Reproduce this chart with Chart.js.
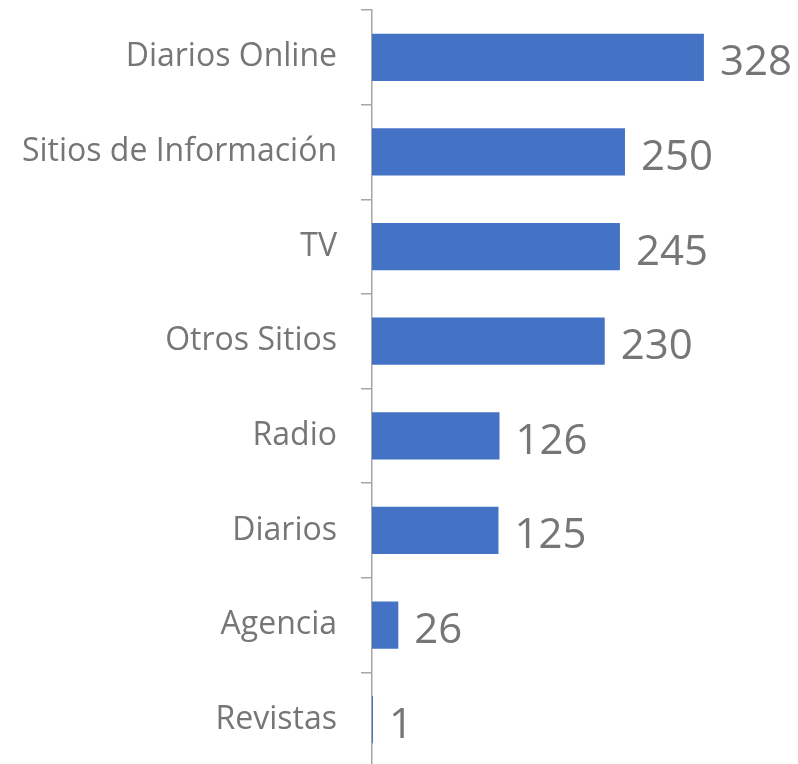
<!DOCTYPE html>
<html>
<head>
<meta charset="utf-8">
<script src="https://cdn.jsdelivr.net/npm/chart.js@4"></script>
<style>
  html, body { margin: 0; padding: 0; background: #fff; overflow: hidden; }
  #wrap { position: relative; width: 798px; height: 770px; }
</style>
</head>
<body>
<div id="wrap"><canvas id="mediaChart" aria-label="Bar chart of mentions by media type"></canvas></div>
<script>
const categories = ['Diarios Online', 'Sitios de Información', 'TV', 'Otros Sitios', 'Radio', 'Diarios', 'Agencia', 'Revistas'];
const mentions = [328, 250, 245, 230, 126, 125, 26, 1];

const BAR_BLUE = '#4472C4';
const TEXT_GRAY = '#767676';
const FONT = "'Open Sans', sans-serif";

// draws the value at the end of each bar
const valueLabels = {
  id: 'valueLabels',
  afterDatasetsDraw(chart) {
    const { ctx } = chart;
    const meta = chart.getDatasetMeta(0);
    ctx.save();
    ctx.fillStyle = TEXT_GRAY;
    ctx.font = `42px ${FONT}`;
    ctx.textAlign = 'left';
    ctx.textBaseline = 'middle';
    meta.data.forEach((bar, i) => {
      ctx.fillText(String(mentions[i]), bar.x + 16, bar.y + 6);
    });
    ctx.restore();
  },
};

new Chart(document.getElementById('mediaChart'), {
  type: 'bar',
  data: {
    labels: categories,
    datasets: [{
      data: mentions,
      backgroundColor: BAR_BLUE,
      borderWidth: 0,
      categoryPercentage: 1,
      barPercentage: 0.5,
    }],
  },
  options: {
    indexAxis: 'y',
    responsive: true,
    maintainAspectRatio: false,
    animation: false,
    layout: { padding: { top: 10, right: 0, bottom: 3, left: 0 } },
    plugins: {
      legend: { display: false },
      tooltip: { enabled: false },
    },
    scales: {
      x: {
        display: false,
        min: 0,
        max: 421,
      },
      y: {
        afterFit: (s) => {
          s.width = 372;
          s.paddingTop = 0;
          s.paddingBottom = 0;
        },
        border: { display: true, color: '#a6a6a6', width: 1.5 },
        grid: {
          offset: true,
          drawOnChartArea: false,
          drawTicks: true,
          tickLength: 11,
          color: '#a6a6a6',
          lineWidth: 1.5,
        },
        ticks: {
          color: TEXT_GRAY,
          padding: 24,
          font: { family: FONT, size: 32 },
        },
      },
    },
  },
  plugins: [valueLabels],
});
</script>
</body>
</html>
